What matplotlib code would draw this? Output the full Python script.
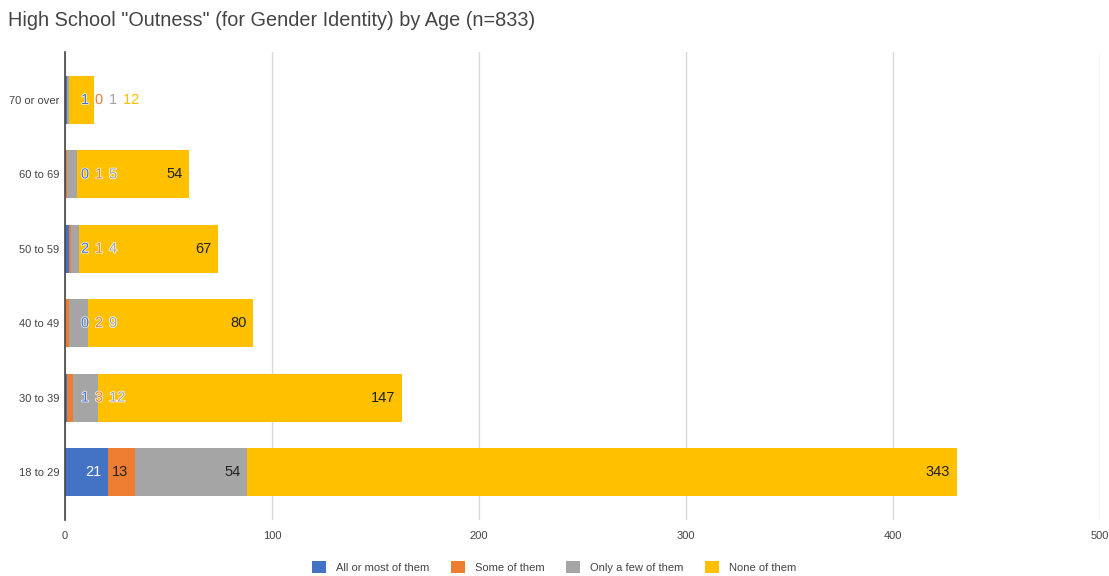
import numpy as np
import matplotlib
matplotlib.use("Agg")
import matplotlib.pyplot as plt
import matplotlib.patheffects as pe

plt.rcParams['font.family'] = ['Liberation Sans', 'DejaVu Sans']

# age groups, bottom to top
ages = ["18 to 29", "30 to 39", "40 to 49", "50 to 59", "60 to 69", "70 or over"]
series = ["All or most of them", "Some of them", "Only a few of them", "None of them"]
all_or_most = [21, 1, 0, 2, 0, 1]
some = [13, 3, 2, 1, 1, 0]
few = [54, 12, 9, 4, 5, 1]
none = [343, 147, 80, 67, 54, 12]

COLORS = ["#4472C4", "#ED7D31", "#A5A5A5", "#FFC000"]
TEXT_IN = ["white", "#222222", "#222222", "#222222"]
XMAX = 500
BAR_H = 0.645

fig = plt.figure(figsize=(11.09, 5.76), dpi=100)
ax = fig.add_axes([65 / 1109, 56 / 576, 1035 / 1109, 468 / 576])

data = np.array([all_or_most, some, few, none], dtype=float)
y = np.arange(len(ages))
left = np.zeros(len(ages))
for k in range(4):
    ax.barh(y, data[k], left=left, height=BAR_H, color=COLORS[k],
            label=series[k], zorder=2)
    left += data[k]

# points per data unit, used to decide whether a label fits its segment
pt_per_unit = (1035 * 0.72) / XMAX
fs = 10.5
halo = [pe.withStroke(linewidth=1.0, foreground="white")]

for i in range(len(ages)):
    start = 0.0
    overflow_x = 11.5  # points from the bar start for labels that do not fit
    for k in range(4):
        v = data[k, i]
        txt = str(int(v))
        width_pt = len(txt) * 5.8
        if v * pt_per_unit >= width_pt + 7.7:
            ax.annotate(txt, xy=(start + v, i), xytext=(-5, 0),
                        textcoords="offset points", ha="right", va="center",
                        fontsize=fs, color=TEXT_IN[k], zorder=4)
        else:
            ax.annotate(txt, xy=(0, i), xytext=(overflow_x, 0),
                        textcoords="offset points", ha="left", va="center",
                        fontsize=fs, color=COLORS[k], zorder=4,
                        path_effects=halo)
            overflow_x += width_pt + 4.3
        start += v

ax.set_xlim(0, XMAX)
ax.set_ylim(-0.645, len(ages) - 1 + 0.645)
ax.set_xticks(range(0, XMAX + 1, 100))
ax.set_yticks(y)
ax.set_yticklabels(ages)
ax.xaxis.grid(True, color="#d9d9d9", linewidth=1, zorder=0)
ax.set_axisbelow(True)
for s in ["top", "right", "bottom"]:
    ax.spines[s].set_visible(False)
ax.spines["left"].set_color("#444444")
ax.spines["left"].set_linewidth(1.2)
ax.spines["left"].set_zorder(3)
ax.tick_params(axis="both", length=0, labelsize=8, labelcolor="#444444")
ax.tick_params(axis="x", pad=8)
ax.tick_params(axis="y", pad=4)

fig.text(8 / 1109, 1 - 20 / 576, 'High School "Outness" (for Gender Identity) by Age (n=833)',
         fontsize=14.3, color="#444444", ha="left", va="center")

fig.legend(loc="center", bbox_to_anchor=(554 / 1109, 9 / 576), ncol=4,
           frameon=False, fontsize=8, handlelength=1.25, handleheight=1.4,
           handletextpad=0.9, columnspacing=1.95, labelcolor="#444444")

fig.savefig("out.png", dpi=100)
